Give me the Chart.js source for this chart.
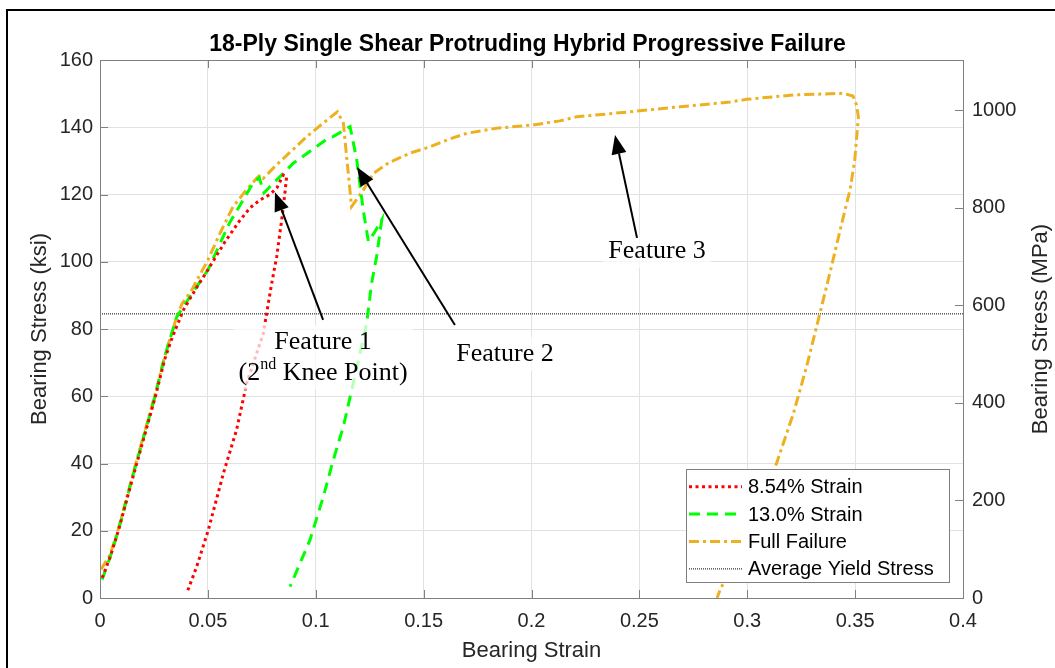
<!DOCTYPE html>
<html><head><meta charset="utf-8">
<script src="https://cdn.jsdelivr.net/npm/chart.js@4.4.1/dist/chart.umd.min.js"></script>
<style>html,body{margin:0;padding:0;background:#fff;}</style>
</head><body>
<canvas id="c" width="1055" height="668"></canvas>
<script>
// ---------- data ----------
const xTicks = [0, 0.05, 0.1, 0.15, 0.2, 0.25, 0.3, 0.35, 0.4];
const yTicksKsi = [0, 20, 40, 60, 80, 100, 120, 140, 160];
const yTicksMPa = [0, 200, 400, 600, 800, 1000];
const KSI_TO_MPA = 6.894757;

const seriesLabels = ['8.54% Strain', '13.0% Strain', 'Full Failure', 'Average Yield Stress'];

const redStrain = [0.001, 0.0046, 0.0085, 0.0155, 0.0216, 0.0255, 0.030, 0.0332, 0.0386, 0.0440, 0.0494, 0.058, 0.0645, 0.0695, 0.0742, 0.0788, 0.082, 0.085, 0.0865, 0.0857, 0.0842, 0.0819, 0.0796, 0.0780, 0.0757, 0.0680, 0.0633, 0.0572, 0.0502, 0.0448, 0.0402];
const redStress = [6, 12, 20, 36.5, 50.5, 59.5, 71, 77, 85.6, 91.5, 97, 106, 112, 116, 118.4, 120, 122, 125.8, 125.3, 120.4, 112.4, 101.5, 93.6, 87.6, 78.7, 63.9, 50, 37.1, 20.2, 9.3, 1.4];

const greenStrain = [0.001, 0.0046, 0.0085, 0.0155, 0.0216, 0.0255, 0.030, 0.0355, 0.0417, 0.050, 0.060, 0.066, 0.071, 0.0738, 0.0760, 0.0788, 0.0896, 0.0927, 0.1050, 0.1080, 0.1120, 0.1159, 0.1190, 0.1220, 0.1244, 0.1270, 0.1306, 0.1282, 0.1259, 0.1236, 0.1174, 0.1128, 0.1081, 0.1035, 0.0973, 0.0927, 0.0881];
const greenStress = [5.5, 12, 20, 37, 51, 60, 71.8, 83.5, 89.6, 97.5, 111.5, 118, 123.5, 125, 120.5, 122.3, 129.3, 130.7, 136.4, 137.2, 138.7, 140.2, 130.3, 115.4, 106, 108.5, 112.5, 101.5, 93.6, 81.7, 63.9, 51, 41, 30.1, 17.2, 10.3, 3.4];

const orangeStrain = [0.0005, 0.0046, 0.0085, 0.0155, 0.0216, 0.0255, 0.030, 0.0355, 0.038, 0.042, 0.050, 0.056, 0.0617, 0.068, 0.0726, 0.0742, 0.0757, 0.081, 0.088, 0.0958, 0.103, 0.110, 0.1128, 0.1145, 0.1166, 0.122, 0.1267, 0.134, 0.1437, 0.153, 0.162, 0.170, 0.1838, 0.2008, 0.2132, 0.221, 0.2457, 0.269, 0.292, 0.2997, 0.3214, 0.3445, 0.349, 0.3507, 0.3515, 0.3498, 0.3476, 0.3438, 0.339, 0.3337, 0.3275, 0.3214, 0.3136, 0.301, 0.2874, 0.286];
const orangeStress = [8.5, 12.8, 20.5, 37.5, 51.5, 60.5, 72, 83.5, 87.5, 91, 100.5, 109, 116.4, 121.5, 124.8, 125.8, 124.8, 128.3, 132.5, 137.2, 141, 144.6, 141.2, 130, 116.4, 121.3, 126.3, 129.5, 132.3, 134.2, 136.5, 138.2, 139.7, 140.7, 141.9, 143.1, 144.6, 146.1, 147.5, 148.3, 149.6, 150.1, 149.3, 146.5, 143, 130, 121.3, 111.4, 98.5, 84.7, 68.8, 54.9, 40.1, 20.2, 2.4, 0];

const yieldStress = 84.5;
const yieldStrain = [0, 0.4];

// annotation texts and arrows, in data coordinates (strain, ksi)
const noteTexts = [
  { lines: [['Feature 1'], ['(2', 'nd', ' Knee Point)']], x: 0.1034, y: [76.1, 67.0] },
  { lines: [['Feature 2']], x: 0.1877, y: [72.6] },
  { lines: [['Feature 3']], x: 0.2582, y: [103.2] }
];
const noteArrows = [
  { from: [0.1034, 82.7], to: [0.0811, 120.7] },
  { from: [0.1645, 81.2], to: [0.1191, 128.2] },
  { from: [0.2489, 107.1], to: [0.2387, 137.7] }
];

// ---------- styles ----------
const SANS = '"Liberation Sans", Arial, Helvetica, sans-serif';
const SERIF = '"Liberation Serif", "Times New Roman", serif';
const AX = '#262626';
const BOXC = '#808080';

const toXY = (xs, ys) => xs.map((x, i) => ({ x, y: ys[i] }));
const fmt = v => String(Number(v.toFixed(3)));

const datasets = [
  { label: seriesLabels[0], data: toXY(redStrain, redStress), borderColor: '#ff0000', borderWidth: 3, borderDash: [3, 3.5], borderCapStyle: 'butt' },
  { label: seriesLabels[1], data: toXY(greenStrain, greenStress), borderColor: '#00ff00', borderWidth: 3, borderDash: [11, 7] },
  { label: seriesLabels[2], data: toXY(orangeStrain, orangeStress), borderColor: '#edb120', borderWidth: 3, borderDash: [10, 4, 3, 4] },
  { label: seriesLabels[3], data: toXY(yieldStrain, [yieldStress, yieldStress]), borderColor: '#000000', borderWidth: 1, borderDash: [1, 1] }
].map(d => Object.assign(d, { showLine: true, pointRadius: 0, pointHoverRadius: 0, fill: false, tension: 0, yAxisID: 'y' }));

const decor = {
  id: 'decor',
  beforeDraw(chart) {
    const c = chart.ctx;
    c.save(); c.fillStyle = '#fff'; c.fillRect(0, 0, chart.width, chart.height); c.restore();
  },
  afterDatasetsDraw(chart) {
    const c = chart.ctx, a = chart.chartArea, xs = chart.scales.x, ys = chart.scales.y, y2 = chart.scales.y2;
    c.save();
    // note text boxes + texts
    const fsz = 26, supSz = 16;
    noteTexts.forEach(n => {
      c.font = fsz + 'px ' + SERIF;
      const cx = xs.getPixelForValue(n.x);
      const widths = n.lines.map(parts => {
        let w = 0;
        parts.forEach((p, i) => { c.font = (i === 1 ? supSz : fsz) + 'px ' + SERIF; w += c.measureText(p).width; });
        return w;
      });
      const maxW = Math.max(...widths);
      const ysPix = n.y.map(v => ys.getPixelForValue(v));
      const top = Math.min(...ysPix) - 17, bot = Math.max(...ysPix) + 17;
      c.fillStyle = 'rgba(255,255,255,0.72)';
      c.fillRect(cx - maxW / 2 - 5, top, maxW + 10, bot - top);
      c.fillStyle = '#000';
      c.textBaseline = 'middle';
      n.lines.forEach((parts, li) => {
        let x = cx - widths[li] / 2;
        parts.forEach((p, i) => {
          const sup = i === 1;
          c.font = (sup ? supSz : fsz) + 'px ' + SERIF;
          c.textAlign = 'left';
          c.fillText(p, x, ysPix[li] + (sup ? -8 : 0));
          x += c.measureText(p).width;
        });
      });
    });
    // arrows
    c.strokeStyle = '#000'; c.fillStyle = '#000'; c.lineWidth = 2;
    noteArrows.forEach(ar => {
      const x1 = xs.getPixelForValue(ar.from[0]), y1 = ys.getPixelForValue(ar.from[1]);
      const x2 = xs.getPixelForValue(ar.to[0]), y2p = ys.getPixelForValue(ar.to[1]);
      const ang = Math.atan2(y2p - y1, x2 - x1), L = 19, W = 7.5;
      const bx = x2 - L * Math.cos(ang), by = y2p - L * Math.sin(ang);
      c.beginPath(); c.moveTo(x1, y1); c.lineTo(bx, by); c.stroke();
      c.beginPath(); c.moveTo(x2, y2p);
      c.lineTo(bx - W * Math.sin(ang), by + W * Math.cos(ang));
      c.lineTo(bx + W * Math.sin(ang), by - W * Math.cos(ang));
      c.closePath(); c.fill();
    });
    // axes box
    c.strokeStyle = BOXC; c.lineWidth = 1;
    c.strokeRect(Math.round(a.left) + 0.5, Math.round(a.top) + 0.5, Math.round(a.right - a.left), Math.round(a.bottom - a.top));
    // inner ticks
    c.beginPath();
    const TL = 8;
    xTicks.forEach(v => {
      const p = Math.round(xs.getPixelForValue(v)) + 0.5;
      c.moveTo(p, a.bottom); c.lineTo(p, a.bottom - TL);
      c.moveTo(p, a.top); c.lineTo(p, a.top + TL);
    });
    yTicksKsi.forEach(v => {
      const p = Math.round(ys.getPixelForValue(v)) + 0.5;
      c.moveTo(a.left, p); c.lineTo(a.left + TL, p);
    });
    yTicksMPa.forEach(v => {
      const p = Math.round(y2.getPixelForValue(v)) + 0.5;
      c.moveTo(a.right, p); c.lineTo(a.right - TL, p);
    });
    c.stroke();
    // legend
    const lw = 263, lh = 113;
    const lx = a.right - 14 - lw, ly = a.bottom - 16 - lh;
    c.fillStyle = '#fff'; c.fillRect(lx, ly, lw, lh);
    c.strokeStyle = BOXC; c.strokeRect(Math.round(lx) + 0.5, Math.round(ly) + 0.5, lw, lh);
    chart.data.datasets.forEach((d, i) => {
      const yy = ly + 17.7 + i * 27.4;
      c.save();
      c.strokeStyle = d.borderColor; c.lineWidth = d.borderWidth; c.setLineDash(d.borderDash || []);
      c.beginPath(); c.moveTo(lx + 3, yy); c.lineTo(lx + 56, yy); c.stroke();
      c.restore();
      c.fillStyle = '#000'; c.font = '20px ' + SANS; c.textAlign = 'left'; c.textBaseline = 'middle';
      c.fillText(d.label, lx + 62, yy + 1);
    });
    // right axis title (reads bottom to top)
    c.save();
    c.translate(1041, (a.top + a.bottom) / 2);
    c.rotate(-Math.PI / 2);
    c.fillStyle = AX; c.font = '22px ' + SANS; c.textAlign = 'center'; c.textBaseline = 'middle';
    c.fillText('Bearing Stress (MPa)', 0, 0);
    c.restore();
    c.restore();
  },
  afterDraw(chart) {
    const c = chart.ctx;
    c.save(); c.strokeStyle = '#000'; c.lineWidth = 2;
    c.strokeRect(7, 10, chart.width + 20, chart.height + 20);
    c.restore();
  }
};

new Chart(document.getElementById('c'), {
  type: 'scatter',
  data: { datasets },
  options: {
    responsive: false, animation: false, devicePixelRatio: 1,
    layout: { padding: 0 },
    plugins: {
      legend: { display: false }, tooltip: { enabled: false },
      title: { display: true, text: '18-Ply Single Shear Protruding Hybrid Progressive Failure',
        font: { family: SANS, size: 23, weight: 'bold' }, color: '#000', padding: { top: 31, bottom: 1.4 } }
    },
    scales: {
      x: {
        type: 'linear', min: 0, max: 0.4,
        afterBuildTicks: s => { s.ticks = xTicks.map(v => ({ value: v })); },
        afterFit: s => { s.height = 70; },
        ticks: { callback: v => fmt(v), font: { family: SANS, size: 20 }, color: AX, padding: 11, maxRotation: 0, autoSkip: false },
        grid: { color: '#e2e2e2', drawTicks: false },
        border: { display: false },
        title: { display: true, text: 'Bearing Strain', font: { family: SANS, size: 22 }, color: AX, padding: { top: 0, bottom: 4 } }
      },
      y: {
        type: 'linear', position: 'left', min: 0, max: 160,
        afterBuildTicks: s => { s.ticks = yTicksKsi.map(v => ({ value: v })); },
        afterFit: s => { s.width = 100; },
        ticks: { callback: v => fmt(v), font: { family: SANS, size: 20 }, color: AX, padding: 7 },
        grid: { color: '#e2e2e2', drawTicks: false },
        border: { display: false },
        title: { display: true, text: 'Bearing Stress (ksi)', font: { family: SANS, size: 22 }, color: AX, padding: { top: 27, bottom: 0 } }
      },
      y2: {
        type: 'linear', position: 'right', min: 0, max: 160 * KSI_TO_MPA,
        afterBuildTicks: s => { s.ticks = yTicksMPa.map(v => ({ value: v })); },
        afterFit: s => { s.width = 92; },
        ticks: { callback: v => fmt(v), font: { family: SANS, size: 20 }, color: AX, padding: 9 },
        grid: { display: false, drawTicks: false },
        border: { display: false }
      }
    }
  },
  plugins: [decor]
});
</script>
</body></html>
